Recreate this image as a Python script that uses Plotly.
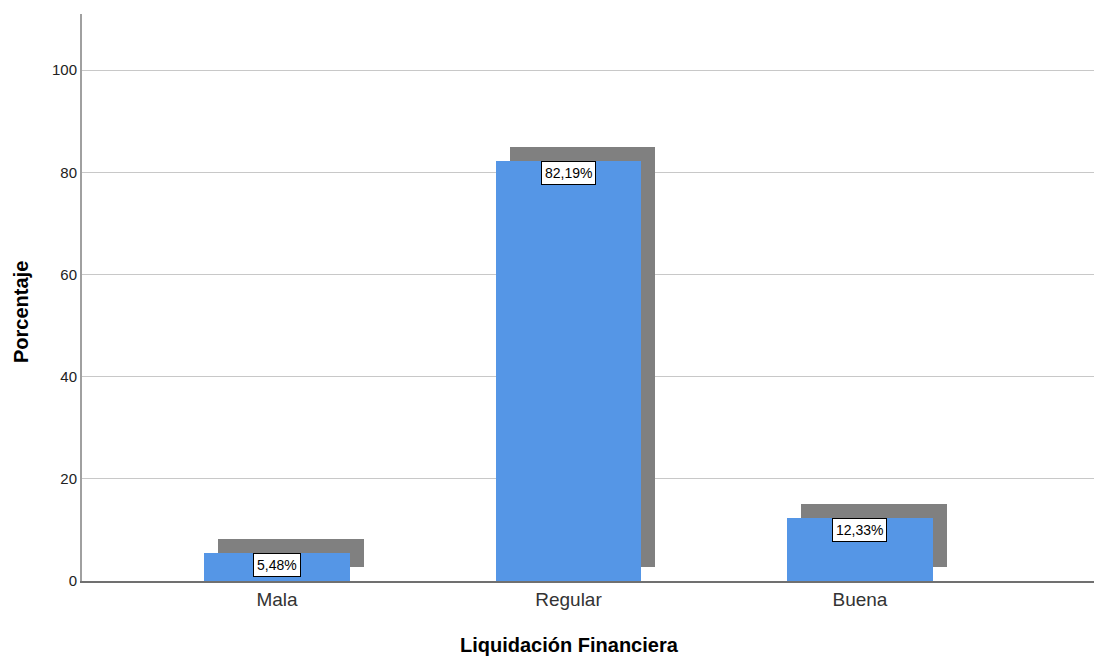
import plotly.graph_objects as go

categories = ["Mala", "Regular", "Buena"]
percentages = [5.48, 82.19, 12.33]
label_texts = ["5,48%", "82,19%", "12,33%"]
y_ticks = [0, 20, 40, 60, 80, 100]

FONT = "Arial, Liberation Sans, sans-serif"
BAR_W = 0.5
SH_DX = 0.048   # shadow shift in category units
SH_DY = 2.74    # shadow shift in value units

fig = go.Figure()
fig.add_trace(go.Bar(
    x=categories, y=percentages, base=[SH_DY] * len(percentages),
    width=BAR_W, offset=-BAR_W / 2 + SH_DX,
    marker=dict(color="#808080", line=dict(width=0)),
    hoverinfo="skip", showlegend=False,
))
fig.add_trace(go.Bar(
    x=categories, y=percentages,
    width=BAR_W, offset=-BAR_W / 2,
    marker=dict(color="#5596E6", line=dict(width=0)),
    showlegend=False,
))

for c, v, t in zip(categories, percentages, label_texts):
    fig.add_annotation(
        x=c, y=v, text=t, showarrow=False, yanchor="top", xanchor="center",
        font=dict(family=FONT, size=14, color="#000000"),
        bgcolor="#ffffff", bordercolor="#000000", borderwidth=1, borderpad=3,
        yshift=0,
    )

fig.add_annotation(
    xref="paper", yref="paper", x=(21 - 82) / 1012, y=(581 - 312) / 567,
    text="<b>Porcentaje</b>", textangle=-90, showarrow=False,
    xanchor="center", yanchor="middle",
    font=dict(family=FONT, size=20, color="#000000"),
)
fig.add_annotation(
    xref="paper", yref="paper", x=(569 - 82) / 1012, y=(581 - 645) / 567,
    text="<b>Liquidación Financiera</b>", showarrow=False,
    xanchor="center", yanchor="middle",
    font=dict(family=FONT, size=20, color="#000000"),
)

fig.update_layout(
    width=1095, height=657,
    margin=dict(l=82, r=1, t=14, b=76),
    paper_bgcolor="#ffffff", plot_bgcolor="#ffffff",
    barmode="overlay", bargap=0,
    font=dict(family=FONT),
)
fig.update_xaxes(
    type="category", range=[-0.669, 2.803],
    showline=True, linecolor="#707070", linewidth=2,
    showgrid=False, ticks="", zeroline=False,
    tickfont=dict(family=FONT, size=19, color="#333333"),
)
fig.update_yaxes(
    range=[0, 111], tickvals=y_ticks,
    showline=True, linecolor="#a0a0a0", linewidth=2,
    showgrid=True, gridcolor="#c8c8c8", gridwidth=1,
    zeroline=False, ticks="",
    tickfont=dict(family=FONT, size=15, color="#222222"),
)

fig.write_html(
    "out.html",
    config={"displayModeBar": False},
    post_script="document.body.style.margin='0';document.body.style.overflow='hidden';",
)
